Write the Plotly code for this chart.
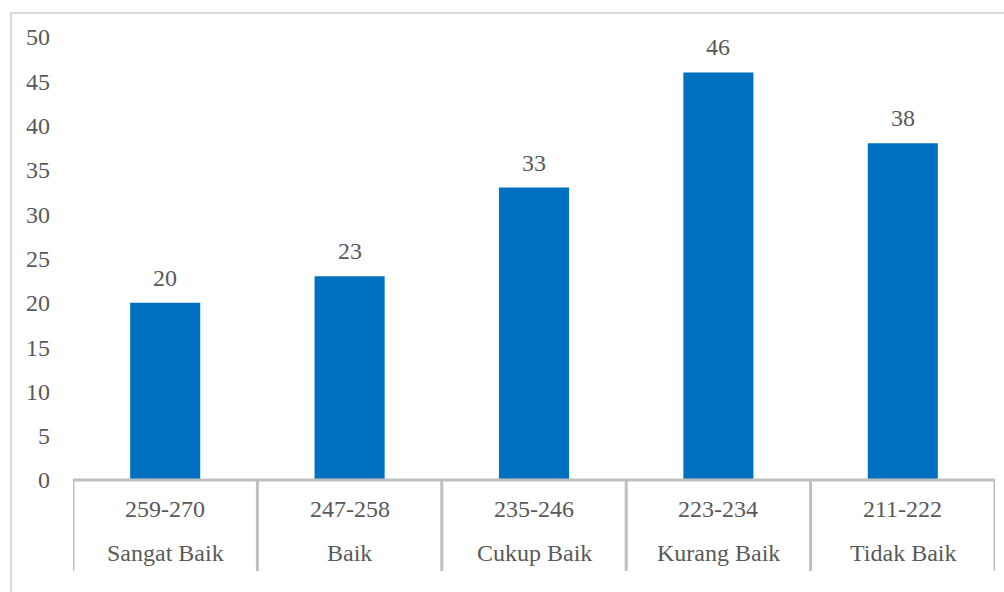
import plotly.graph_objects as go

ranges = ["259-270", "247-258", "235-246", "223-234", "211-222"]
categories = ["Sangat Baik", "Baik", "Cukup Baik", "Kurang Baik", "Tidak Baik"]
values = [20, 23, 33, 46, 38]

W, H = 1004, 592
L, R, T, B = 73, 9, 37, 112
pw, ph = W - L - R, H - T - B

def px_x(px):
    return (px - L) / pw

def px_y(py):
    return (H - B - py) / ph

FONT = "Liberation Serif"
FS = 24
TXT = "#595959"
GRID = "#BFBFBF"

fig = go.Figure(go.Bar(
    x=list(range(len(values))),
    y=values,
    marker=dict(color="#0070C0", line=dict(width=0)),
    cliponaxis=False,
))

shapes = []
# outer chart border (light gray)
shapes.append(dict(type="rect", xref="paper", yref="paper",
                   x0=px_x(11), x1=px_x(1020), y0=px_y(600), y1=px_y(13),
                   line=dict(color="#D9D9D9", width=2), fillcolor="rgba(0,0,0,0)", layer="below"))
# axis line
shapes.append(dict(type="line", xref="paper", yref="paper",
                   x0=0, x1=1, y0=0, y1=0, line=dict(color=GRID, width=3)))
# category dividers
for i in range(len(values) + 1):
    shapes.append(dict(type="line", xref="x", yref="paper",
                       x0=i - 0.5, x1=i - 0.5, y0=0, y1=px_y(571),
                       line=dict(color=GRID, width=3)))

annotations = []
for i, v in enumerate(values):
    annotations.append(dict(x=i, y=v, xref="x", yref="y", text=str(v), yanchor="middle",
                            yshift=25, showarrow=False,
                            font=dict(family=FONT, size=FS, color=TXT)))
for i, (r, c) in enumerate(zip(ranges, categories)):
    annotations.append(dict(x=i, y=px_y(509), xref="x", yref="paper", text=r,
                            yanchor="middle", showarrow=False,
                            font=dict(family=FONT, size=FS, color=TXT)))
    annotations.append(dict(x=i, y=px_y(553), xref="x", yref="paper", text=c,
                            yanchor="middle", showarrow=False,
                            font=dict(family=FONT, size=FS, color=TXT)))

fig.update_layout(
    width=W, height=H,
    margin=dict(l=L, r=R, t=T, b=B),
    paper_bgcolor="white", plot_bgcolor="white",
    bargap=0.62,
    showlegend=False,
    shapes=shapes,
    annotations=annotations,
    xaxis=dict(range=[-0.5, len(values) - 0.5], showticklabels=False, showgrid=False,
               zeroline=False, showline=False, ticks=""),
    yaxis=dict(range=[0, 50], dtick=5, showgrid=False, zeroline=False, showline=False,
               tickfont=dict(family=FONT, size=FS, color=TXT), ticks="", ticklabelstandoff=22),
)

fig.write_html("out.html")
